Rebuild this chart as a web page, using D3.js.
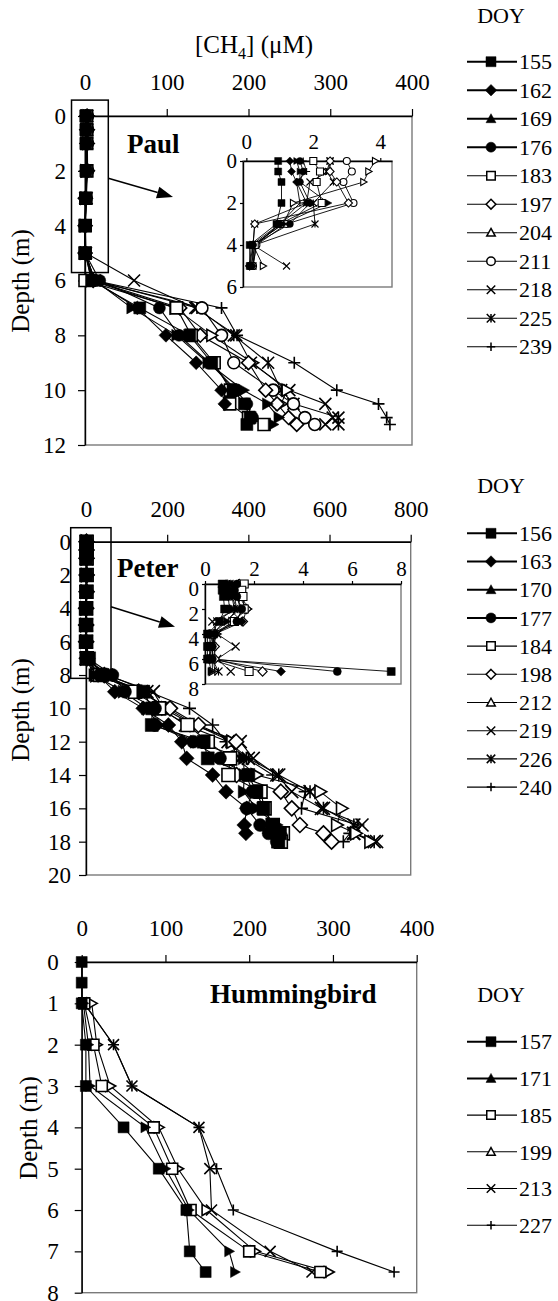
<!DOCTYPE html>
<html>
<head>
<meta charset="utf-8">
<script src="https://cdn.jsdelivr.net/npm/d3@7"></script>
<style>
  body { margin: 0; background: #fff; }
  svg { display: block; }
  text { font-family: "Liberation Serif", "Times New Roman", serif; fill: #000; }
</style>
</head>
<body>
<svg id="drawing_region"></svg>
<script>
// ---- Paul Lake ----
const paulDoy = ['155', '162', '169', '176', '183', '197', '204', '211', '218', '225', '239'];
const paulMarks = ['sqf', 'diaf', 'trif', 'cirf', 'sqo', 'diao', 'trio', 'ciro', 'x', 'star', 'plus'];
const paulDepth = [0, 0.5, 1, 2, 3, 4, 5, 6, 7, 8, 9, 10, 10.5, 11, 11.25];
const paulCH4 = [
  [0.95, 0.95, 1.05, 1.05, 0.9, 0.1, 0.1, 8, 67, 128, 155, 181, 195, 202, 198],
  [1.3, 1.35, 1.5, 1.8, 1.0, 0.15, 0.1, 10, 64, 99, 136, 167, 171, null, null],
  [1.5, 1.6, 1.6, 2.45, 1.1, 0.2, 0.2, 12, 57, 112, 150, 194, 223, 237, 230],
  [1.6, 1.7, 1.6, 1.9, 1.3, 0.2, 0.15, 18, 91, 115, 152, 185, 198, 205, null],
  [2.0, 2.2, 2.1, 2.25, 1.0, 0.25, 0.15, 0, 112, 130, 158, 178, 177, 200, 219],
  [2.5, 2.5, 2.7, 3.05, 0.25, 0.2, 0.1, 10, 116, 141, 200, 221, 235, 249, 259],
  [3.85, 3.65, 3.5, 1.4, 1.1, 0.2, 0.5, 8, 110, 155, 205, 247, 240, null, null],
  [3.0, 3.15, 2.9, 3.2, 1.2, 0.3, 0.2, 10, 143, 167, 182, 230, 255, 269, 281],
  [2.5, 2.45, 1.9, 1.8, 0.25, 0.2, 1.2, 60, 135, 185, 203, 250, 294, 303, 294],
  [2.5, 2.4, 2.6, 2.0, 2.05, 0.25, 0.2, 12, 137, 182, 224, 240, 255, 310, 310],
  [1.7, 1.8, 1.5, 1.6, 1.0, 0.3, 0.2, 12, 167, 186, 256, 308, 359, 369, 373]
];

// ---- Peter Lake ----
const peterDoy = ['156', '163', '170', '177', '184', '198', '212', '219', '226', '240'];
const peterMarks = ['sqf', 'diaf', 'trif', 'cirf', 'sqo', 'diao', 'trio', 'x', 'star', 'plus'];
const peterDepth = [0, 0.5, 1, 2, 3, 4, 5, 6, 7, 8, 9, 10, 11, 12, 13, 14, 15, 16, 17, 17.5, 18];
const peterCH4 = [
  [0.7, 0.7, 0.75, 0.8, 0.6, 0.1, 0.1, 0.1, 7.6, 40, 141, 163, 162, 290, 300, 400, 420, 437, 461, 478, 474],
  [0.9, 0.9, 0.95, 1.0, 1.5, 0.2, 0.2, 0.2, 3.1, 30, 71, 141, 203, 236, 248, 312, 345, 396, 390, 394, null],
  [1.1, 1.0, 1.1, 1.3, 0.9, 0.3, 0.3, 0.15, 0.25, 20, 92, 150, 180, 270, 388, 390, 388, 420, 470, 480, 470],
  [1.3, 1.2, 1.3, 1.5, 1.3, 0.4, 0.3, 0.3, 5.4, 65, 96, 170, 170, 264, 330, 395, 410, 396, 429, 450, 470],
  [1.6, 1.5, 1.55, 1.6, 1.2, 0.3, 0.2, 0.2, 1.8, 35, 121, 180, 250, 300, 355, 351, 430, 440, 460, 485, 480],
  [1.4, 1.3, 1.4, 1.7, 1.55, 0.4, 0.4, 0.4, 2.35, 45, 130, 207, 277, 370, 360, 371, 480, 507, 527, 585, 605],
  [1.5, 1.4, 1.5, 1.75, 1.1, 0.5, 0.3, 0.3, 0.3, 25, 140, 200, 270, 360, 370, 420, 577, 630, 618, 665, 700],
  [1.2, 1.1, 1.2, 1.3, 0.3, 0.5, 1.25, 0.5, 1.05, 50, 166, 190, 265, 380, 412, 470, 507, 580, 680, 660, 716],
  [1.0, 1.0, 1.1, 1.2, 0.5, 0.35, 0.3, 0.3, 0.55, 30, 150, 185, 245, 350, 400, 475, 552, 585, 660, 659, 710],
  [1.3, 1.2, 1.3, 1.45, 0.8, 0.3, 0.4, 0.35, 0.4, 55, 155, 255, 312, 345, 395, 460, 540, 531, 670, 650, 634]
];

// ---- Hummingbird Lake ----
const humDoy = ['157', '171', '185', '199', '213', '227'];
const humMarks = ['sqf', 'trif', 'sqo', 'trio', 'x', 'plus'];
const humDepth = [0, 0.5, 1, 2, 3, 4, 5, 6, 7, 7.5];
const humCH4 = [
  [0, 0, 0, 5, 5, 50, 92, 125, 129, 148],
  [null, null, 2, 8, 10, 76, 100, 128, 176, 183],
  [null, null, 3, 14, 24, 86, 108, 130, 200, 285],
  [null, null, 12, 18, 34, 92, 115, 149, 207, 295],
  [null, null, 3, 38, 60, 140, 153, 155, 225, 275],
  [null, null, 3, 38, 60, 140, 161, 181, 305, 373]
];

const FONT = '"Liberation Serif", "Times New Roman", serif';
const svg = d3.select('#drawing_region')
  .attr('width', 558).attr('height', 1301)
  .attr('font-family', FONT);

function markerPath(type, s, legend) {
  const h = s / 2;
  switch (type) {
    case 'sqf': case 'sqo': return `M${-h},${-h}H${h}V${h}H${-h}Z`;
    case 'diaf': case 'diao': { const k = h * 1.15; return `M0,${-k}L${k},0L0,${k}L${-k},0Z`; }
    case 'trif': case 'trio':
      return legend ? `M0,${-h}L${h},${h * 0.8}L${-h},${h * 0.8}Z`
                    : `M${h},0L${-h * 0.8},${-h}L${-h * 0.8},${h}Z`;
    case 'cirf': case 'ciro': return `M${h},0A${h},${h} 0 1,1 ${-h},0A${h},${h} 0 1,1 ${h},0Z`;
    case 'x': return `M${-h},${-h}L${h},${h}M${-h},${h}L${h},${-h}`;
    case 'star': return `M${-h},${-h}L${h},${h}M${-h},${h}L${h},${-h}M0,${-h}V${h}`;
    case 'plus': return `M${-h},0H${h}M0,${-h}V${h}`;
  }
}

function styleMarker(sel, type, sw) {
  const filled = type.endsWith('f');
  const open = type.endsWith('o');
  sel.attr('fill', filled ? '#000' : (open ? '#fff' : 'none'))
     .attr('stroke', '#000')
     .attr('stroke-width', filled ? 0.5 : sw);
}

function drawPlot(cfg, depths, values, marks) {
  const g = svg.append('g');
  const x = d3.scaleLinear().domain(cfg.xDomain).range([cfg.left, cfg.right]);
  const y = d3.scaleLinear().domain(cfg.yDomain).range([cfg.top, cfg.bottom]);

  g.append('rect')
    .attr('x', cfg.left).attr('y', cfg.top)
    .attr('width', cfg.right - cfg.left).attr('height', cfg.bottom - cfg.top)
    .attr('fill', '#fff').attr('stroke', '#7a7a7a').attr('stroke-width', 1.4);

  const xaxis = g.append('g')
    .attr('transform', `translate(0,${cfg.top})`)
    .call(d3.axisTop(x).tickValues(cfg.xTicks).tickFormat(d3.format('d'))
      .tickSize(cfg.tick).tickSizeOuter(0).tickPadding(cfg.xPad));
  const yaxis = g.append('g')
    .attr('transform', `translate(${cfg.left},0)`)
    .call(d3.axisLeft(y).tickValues(cfg.yTicks).tickFormat(d3.format('d'))
      .tickSize(cfg.tick).tickSizeOuter(0).tickPadding(cfg.yPad));
  [xaxis, yaxis].forEach(a => {
    a.attr('font-family', FONT).attr('font-size', cfg.font);
    a.select('.domain').attr('stroke', '#000').attr('stroke-width', 1.4);
    a.selectAll('.tick line').attr('stroke', '#000').attr('stroke-width', 1.2);
  });
  if (cfg.yDy) yaxis.selectAll('text').attr('dy', cfg.yDy);

  const maxD = cfg.maxDepth != null ? cfg.maxDepth : cfg.yDomain[1];
  const series = values.map(row => depths.map((d, j) => ({ d: d, v: row[j] }))
    .filter(p => p.v != null && p.d <= maxD));

  const line = d3.line().x(p => x(p.v)).y(p => y(p.d));
  series.forEach(pts => {
    g.append('path').datum(pts)
      .attr('d', line)
      .attr('fill', 'none').attr('stroke', '#000').attr('stroke-width', cfg.lw);
  });
  // last series first so the filled symbols end up on top
  for (let i = series.length - 1; i >= 0; i--) {
    g.selectAll(null).data(series[i]).enter().append('path')
      .attr('transform', p => `translate(${x(p.v)},${y(p.d)})`)
      .attr('d', markerPath(marks[i], cfg.ms, false))
      .call(styleMarker, marks[i], cfg.msw);
  }
  return { g: g, x: x, y: y };
}

function drawLegend(cfg, doy, marks) {
  const g = svg.append('g');
  g.append('text')
    .attr('x', 501).attr('y', cfg.titleY)
    .attr('text-anchor', 'middle')
    .attr('font-size', 22)
    .text('DOY');
  doy.forEach((d, i) => {
    const cy = cfg.y0 + i * cfg.step;
    const filled = marks[i].endsWith('f');
    g.append('line')
      .attr('x1', 467).attr('x2', 517).attr('y1', cy).attr('y2', cy)
      .attr('stroke', '#000').attr('stroke-width', filled ? 2 : 1.1);
    g.append('path')
      .attr('transform', `translate(491,${cy})`)
      .attr('d', markerPath(marks[i], filled ? 10 : 8.5, true))
      .call(styleMarker, marks[i], 1.5);
    g.append('text')
      .attr('x', 519).attr('y', cy).attr('dy', '0.35em')
      .attr('font-size', 22)
      .text(d);
  });
}

function zoomBox(p, x0, x1, d0, d1, arrowFrom, arrowTo) {
  p.g.append('rect')
    .attr('x', p.x(x0)).attr('y', p.y(d0))
    .attr('width', p.x(x1) - p.x(x0)).attr('height', p.y(d1) - p.y(d0))
    .attr('fill', 'none').attr('stroke', '#000').attr('stroke-width', 1.5);
  const x1p = p.x(x1), y1p = p.y(arrowFrom);
  const x2p = arrowTo[0], y2p = arrowTo[1];
  const ang = Math.atan2(y2p - y1p, x2p - x1p);
  const L = 16, W = 6;
  const bx = x2p - L * Math.cos(ang), by = y2p - L * Math.sin(ang);
  p.g.append('line')
    .attr('x1', x1p).attr('y1', y1p).attr('x2', bx).attr('y2', by)
    .attr('stroke', '#000').attr('stroke-width', 1.5);
  p.g.append('path')
    .attr('d', `M${x2p},${y2p}L${bx - W * Math.sin(ang)},${by + W * Math.cos(ang)}L${bx + W * Math.sin(ang)},${by - W * Math.cos(ang)}Z`)
    .attr('fill', '#000');
}

function depthTitle(x, cy) {
  svg.append('text')
    .attr('transform', `translate(${x},${cy}) rotate(-90)`)
    .attr('text-anchor', 'middle')
    .attr('font-size', 25)
    .text('Depth (m)');
}

function lakeTitle(x, y, t) {
  svg.append('text')
    .attr('x', x).attr('y', y)
    .attr('font-size', 27).attr('font-weight', 'bold')
    .text(t);
}

// ---------- Paul ----------
const paulMain = drawPlot({
  left: 85, right: 412, top: 116, bottom: 445,
  xDomain: [0, 400], yDomain: [0, 12],
  xTicks: [0, 100, 200, 300, 400], yTicks: [0, 2, 4, 6, 8, 10, 12],
  tick: 7, xPad: 19, yPad: 12, font: 23, lw: 1.1, ms: 12, msw: 1.6
}, paulDepth, paulCH4, paulMarks);
zoomBox(paulMain, -16.5, 28.5, -0.58, 5.71, 2.27, [173, 197]);
drawPlot({
  left: 243, right: 392, top: 161, bottom: 287,
  xDomain: [-0.1, 4.35], yDomain: [0, 6], maxDepth: 5,
  xTicks: [0, 2, 4], yTicks: [0, 2, 4, 6],
  tick: 3, xPad: 9, yPad: 3, font: 21, lw: 0.9, ms: 7, msw: 1.1
}, paulDepth, paulCH4, paulMarks);
lakeTitle(127, 153, 'Paul');
depthTitle(29, 281);

const ct = svg.append('text')
  .attr('x', 254).attr('y', 53)
  .attr('text-anchor', 'middle')
  .attr('font-size', 25);
ct.append('tspan').text('[CH');
ct.append('tspan').attr('dy', 6).attr('font-size', 16).text('4');
ct.append('tspan').attr('dy', -6).text('] (\u03bcM)');

drawLegend({ titleY: 23, y0: 61.7, step: 28.5 }, paulDoy, paulMarks);

// ---------- Peter ----------
const peterMain = drawPlot({
  left: 86, right: 410.7, top: 541.7, bottom: 875,
  xDomain: [0, 800], yDomain: [0, 20],
  xTicks: [0, 200, 400, 600, 800], yTicks: d3.range(0, 21, 2),
  tick: 7, xPad: 18, yPad: 8, font: 23, lw: 1.1, ms: 13, msw: 1.6
}, peterDepth, peterCH4, peterMarks);
zoomBox(peterMain, -37.7, 61.6, -0.84, 8.2, 3.9, [175, 626.7]);
drawPlot({
  left: 205, right: 401, top: 584, bottom: 684,
  xDomain: [0, 8], yDomain: [0, 8], maxDepth: 7,
  xTicks: [0, 2, 4, 6, 8], yTicks: [0, 2, 4, 6, 8],
  tick: 3, xPad: 5, yPad: 3, font: 21, yDy: '0.55em', lw: 0.9, ms: 8, msw: 1.1
}, peterDepth, peterCH4, peterMarks);
lakeTitle(117, 577, 'Peter');
depthTitle(29, 710);
drawLegend({ titleY: 493, y0: 533.3, step: 28.2 }, peterDoy, peterMarks);

// ---------- Hummingbird ----------
drawPlot({
  left: 81.7, right: 416.7, top: 962, bottom: 1292.7,
  xDomain: [0, 400], yDomain: [0, 8],
  xTicks: [0, 100, 200, 300, 400], yTicks: d3.range(0, 9, 1),
  tick: 7, xPad: 19, yPad: 16, font: 23, lw: 1.1, ms: 11, msw: 1.6
}, humDepth, humCH4, humMarks);
lakeTitle(210, 1003, 'Hummingbird');
depthTitle(37, 1128);
drawLegend({ titleY: 1002, y0: 1041.7, step: 36.7 }, humDoy, humMarks);
</script>
</body>
</html>
